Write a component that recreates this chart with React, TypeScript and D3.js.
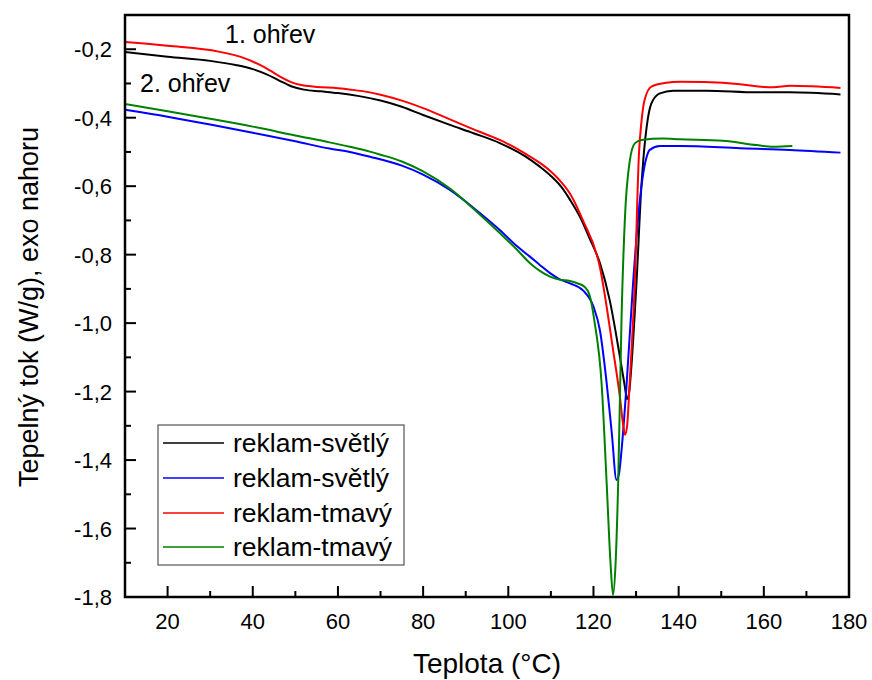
import React from "react";
import * as d3 from "d3";

const black1: [number, number][] = [[10,-0.208],[20,-0.222],[30,-0.234],[36,-0.246],[40,-0.258],[43,-0.272],[46,-0.29],[49,-0.308],[52,-0.318],[56,-0.323],[60,-0.328],[65,-0.337],[70,-0.35],[75,-0.368],[80,-0.392],[86.3,-0.421],[92,-0.446],[98,-0.474],[104,-0.513],[107.4,-0.543],[110,-0.57],[112.5,-0.603],[114.5,-0.64],[116.8,-0.689],[119,-0.75],[121.5,-0.824],[123.8,-0.932],[126.2,-1.098],[127.3,-1.18],[127.9,-1.222],[128.4,-1.2],[128.9,-1.127],[130.1,-0.883],[131.3,-0.59],[131.7,-0.523],[132.5,-0.426],[133.6,-0.358],[135.6,-0.329],[138.7,-0.321],[146.5,-0.321],[158.3,-0.326],[166.1,-0.326],[178,-0.332]];
const blue2: [number, number][] = [[10,-0.377],[20,-0.397],[30,-0.42],[40,-0.444],[50,-0.469],[58,-0.49],[62.8,-0.5],[67.5,-0.514],[75,-0.54],[80,-0.566],[86.3,-0.611],[92,-0.665],[98,-0.728],[102,-0.775],[105,-0.805],[107.4,-0.83],[109.8,-0.854],[112.1,-0.872],[114.5,-0.884],[117.6,-0.905],[120,-0.952],[121.5,-1.02],[123.1,-1.175],[124.3,-1.321],[125.4,-1.458],[126,-1.44],[126.6,-1.37],[127.8,-1.175],[129.3,-0.883],[130.9,-0.64],[132,-0.54],[132.5,-0.514],[133.2,-0.494],[135.6,-0.483],[140.3,-0.483],[154.4,-0.489],[166.1,-0.494],[178,-0.502]];
const red1: [number, number][] = [[10,-0.179],[20,-0.19],[32,-0.207],[38,-0.226],[41.7,-0.246],[44,-0.262],[46.4,-0.28],[49,-0.296],[51.1,-0.304],[55,-0.31],[60,-0.314],[63,-0.318],[67.5,-0.326],[70,-0.333],[75,-0.35],[80,-0.372],[86.3,-0.405],[92,-0.435],[98,-0.465],[104,-0.505],[108,-0.537],[110,-0.557],[112,-0.582],[114.5,-0.622],[117.5,-0.699],[121.5,-0.836],[124.6,-1.078],[126.2,-1.215],[127,-1.3],[127.4,-1.326],[127.9,-1.3],[128.5,-1.175],[129.7,-0.883],[130.7,-0.5],[131.2,-0.42],[132,-0.348],[133.6,-0.309],[137.1,-0.298],[140.3,-0.295],[146,-0.296],[154.4,-0.302],[160,-0.31],[162.2,-0.311],[166.2,-0.307],[178,-0.313]];
const green2: [number, number][] = [[10,-0.36],[20,-0.381],[30,-0.403],[40,-0.426],[50,-0.452],[58,-0.472],[62.8,-0.485],[67.5,-0.499],[70,-0.508],[75,-0.528],[80,-0.557],[86.3,-0.607],[92,-0.668],[98,-0.737],[102,-0.785],[105.1,-0.825],[107.5,-0.848],[109.8,-0.864],[112,-0.873],[114.5,-0.877],[116.5,-0.885],[117.8,-0.893],[119,-0.915],[120.3,-1.0],[121.9,-1.175],[123.1,-1.468],[124,-1.7],[124.6,-1.794],[125.2,-1.7],[125.8,-1.468],[126.6,-0.98],[127.4,-0.689],[128.5,-0.528],[129.7,-0.475],[131.3,-0.465],[136.3,-0.461],[140.3,-0.463],[150.3,-0.467],[158.3,-0.48],[162.2,-0.485],[166.7,-0.483]];

const seriesNames = ["reklam-světlý", "reklam-světlý", "reklam-tmavý", "reklam-tmavý"];
const seriesColors = ["#000000", "#0000ff", "#ff0000", "#008000"];
const seriesData = [black1, blue2, red1, green2];

const xMajorTicks = [20, 40, 60, 80, 100, 120, 140, 160, 180];
const xMinorTicks = [30, 50, 70, 90, 110, 130, 150, 170];
const yMajorTicks = [-0.2, -0.4, -0.6, -0.8, -1.0, -1.2, -1.4, -1.6, -1.8];
const yMinorTicks = [-0.3, -0.5, -0.7, -0.9, -1.1, -1.3, -1.5, -1.7];
const annotations = ["1. ohřev", "2. ohřev"];
const xTitle = "Teplota (°C)";
const yTitle = "Tepelný tok (W/g), exo nahoru";

const FONT = "'Liberation Sans', Arial, sans-serif";

export default function App() {
  const left = 125, right = 849, top = 15, bottom = 597;
  const x = d3.scaleLinear().domain([10, 180]).range([left, right]);
  const y = d3.scaleLinear().domain([-1.8, -0.1]).range([bottom, top]);
  const line = d3.line<[number, number]>().x(d => x(d[0])).y(d => y(d[1])).curve(d3.curveMonotoneX);
  const fmt = (v: number) => d3.format(".1f")(v).replace(".", ",").replace("−", "-");

  const legendRows = [443, 478, 513, 547];

  return (
    <svg width={872} height={680} style={{ position: "absolute", left: 0, top: 0, background: "#fff" }} fontFamily={FONT}>
      <rect x={0} y={0} width={872} height={680} fill="#fff" />
      <defs>
        <clipPath id="plot"><rect x={left} y={top} width={right - left} height={bottom - top} /></clipPath>
      </defs>
      <g clipPath="url(#plot)">
        {seriesData.map((s, i) => (
          <path key={i} d={line(s) || ""} fill="none" stroke={seriesColors[i]} strokeWidth={2} strokeLinejoin="round" />
        ))}
      </g>
      <rect x={left} y={top} width={right - left} height={bottom - top} fill="none" stroke="#000" strokeWidth={2.5} />
      {xMajorTicks.map(t => (
        <g key={"xm" + t}>
          <line x1={x(t)} x2={x(t)} y1={bottom} y2={bottom - 11} stroke="#000" strokeWidth={2} />
          <text x={x(t)} y={629} textAnchor="middle" fontSize={22}>{t}</text>
        </g>
      ))}
      {xMinorTicks.map(t => (
        <line key={"xn" + t} x1={x(t)} x2={x(t)} y1={bottom} y2={bottom - 6} stroke="#000" strokeWidth={2} />
      ))}
      {yMajorTicks.map(t => (
        <g key={"ym" + t}>
          <line x1={left} x2={left + 11} y1={y(t)} y2={y(t)} stroke="#000" strokeWidth={2} />
          <text x={112} y={y(t) + 8} textAnchor="end" fontSize={22}>{fmt(t)}</text>
        </g>
      ))}
      {yMinorTicks.map(t => (
        <line key={"yn" + t} x1={left} x2={left + 6} y1={y(t)} y2={y(t)} stroke="#000" strokeWidth={2} />
      ))}
      <text x={225} y={43} fontSize={25}>{annotations[0]}</text>
      <text x={140} y={92} fontSize={25}>{annotations[1]}</text>
      <text x={487} y={673} textAnchor="middle" fontSize={28}>{xTitle}</text>
      <text transform={`translate(38,307) rotate(-90)`} textAnchor="middle" fontSize={27}>{yTitle}</text>
      <rect x={158} y={425} width={246} height={140} fill="#fff" stroke="#333" strokeWidth={1} />
      {seriesNames.map((n, i) => (
        <g key={"lg" + i}>
          <line x1={163} x2={224} y1={legendRows[i]} y2={legendRows[i]} stroke={seriesColors[i]} strokeWidth={1.5} />
          <text x={233} y={legendRows[i] + 9} fontSize={26.5}>{n}</text>
        </g>
      ))}
    </svg>
  );
}
